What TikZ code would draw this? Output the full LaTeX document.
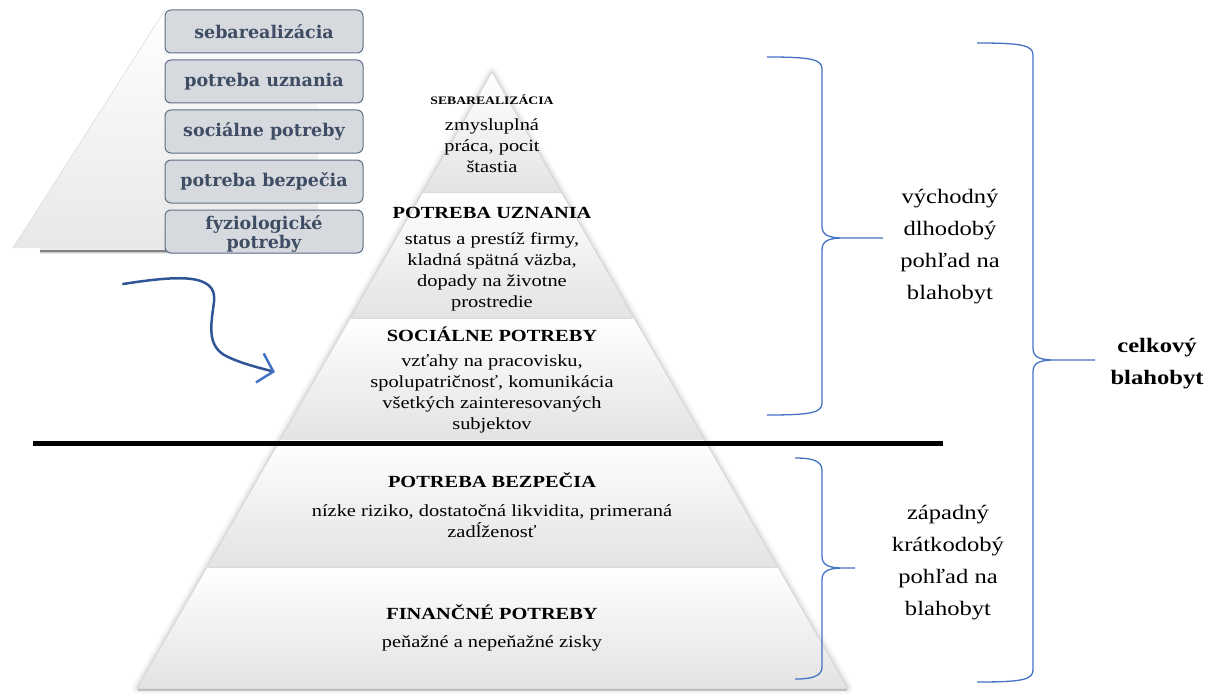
\documentclass[tikz,border=0pt]{standalone}
\usepackage{fontspec}
\setmainfont{Liberation Serif}[FakeStretch=1.2]
\newfontfamily\boxfont{DejaVu Serif}
\usetikzlibrary{calc, arrows.meta, positioning}

\definecolor{slatebox}{HTML}{D6D9DE}
\definecolor{slateline}{HTML}{5F6F86}
\definecolor{slatetext}{HTML}{3E4D63}
\definecolor{bracecol}{HTML}{4472C4}
\definecolor{arrowcol}{HTML}{2F5597}

\newcommand{\wbrace}[6]{%
  \draw[brace] (#1,#4) .. controls (#2-12,#4) and (#2,#4+2) .. (#2,#4+12)
    -- (#2,#5-12) .. controls (#2,#5-3) and (#2+6,#5) .. (#2+22,#5) -- (#3,#5)
    (#2+22,#5) .. controls (#2+6,#5) and (#2,#5+3) .. (#2,#5+12)
    -- (#2,#6-12) .. controls (#2,#6-2) and (#2-12,#6) .. (#1,#6);}

\begin{document}
\begin{tikzpicture}
[x=1pt, y=-1pt,
 layer/.style={top color=white, bottom color=gray!22},
 lbox/.style={draw=slateline, fill=slatebox, rounded corners=6pt, line width=1pt,
              minimum width=198pt, minimum height=43pt, inner sep=1pt, text=slatetext,
              font=\boxfont\bfseries\fontsize{17.5}{19}\selectfont, align=center},
 smallhead/.style={font=\bfseries\fontsize{11.4}{13}\selectfont},
 head/.style={font=\bfseries\fontsize{17}{20}\selectfont},
 body/.style={font=\fontsize{17}{21}\selectfont, align=center},
 side/.style={font=\fontsize{20.5}{32}\selectfont, align=center},
 brace/.style={draw=bracecol, line width=1.3pt}]

\useasboundingbox (0,0) rectangle (1214,698);

% small pyramid
\shade[top color=white, bottom color=gray!18] (165,10) -- (13,248) -- (318,248) -- (318,10) -- cycle;
\draw[gray!35] (165,10) -- (13,248);
\foreach \w/\o in {6/0.08, 3/0.15, 1.5/0.35}
  \draw[line width=\w pt, opacity=\o] (40,251) -- (316,251);

\node[lbox] (sa) at (264,31.5) {sebarealizácia};
\node[lbox, below=6pt of sa] (un) {potreba uznania};
\node[lbox, below=6pt of un] (so) {sociálne potreby};
\node[lbox, below=6pt of so] (bz) {potreba bezpečia};
\node[lbox, below=6pt of bz] (fz) {};
\node[lbox, draw=none, fill=none, yshift=-2pt] (fzt) at (fz) {fyziologické\\potreby};

% main pyramid
\coordinate (apex) at (492,73);
\coordinate (bl) at (138,688);
\coordinate (br) at (847,688);
\foreach \w/\o in {12/0.03, 7/0.05, 3/0.08}
  \draw[line width=\w pt, opacity=\o, line join=round] (apex) -- (bl) -- (br) -- cycle;
\foreach \a/\b in {0/0.1951, 0.1951/0.3984, 0.3984/0.5967, 0.5967/0.8033, 0.8033/1}
  \shade[layer] ($(apex)!\a!(bl)$) -- ($(apex)!\b!(bl)$) -- ($(apex)!\b!(br)$) -- ($(apex)!\a!(br)$) -- cycle;
\foreach \b in {0.1951, 0.3984, 0.8033}
  \draw[gray!30, line width=1pt] ($(apex)!\b!(bl)$) -- ($(apex)!\b!(br)$);
\draw[gray!70, line width=2pt, opacity=0.6] ([yshift=-2pt]bl) -- ([yshift=-2pt]br);

\coordinate (divl) at (33,443);
\coordinate (divr) at (943,443);
\draw[line width=5pt] (divl) -- (divr);

\node[smallhead] (h1) at (492,100) {SEBAREALIZÁCIA};
\node[body] (t1) at (492,146) {zmysluplná\\práca, pocit\\štastia};
\node[head] (h2) at (492,213) {POTREBA UZNANIA};
\node[body] (t2) at (492,271.5) {status a prestíž firmy,\\kladná spätná väzba,\\dopady na životne\\prostredie};
\node[head] (h3) at (492,334) {SOCIÁLNE POTREBY};
\node[body] (t3) at (492,393.5) {vzťahy na pracovisku,\\spolupatričnosť, komunikácia\\všetkých zainteresovaných\\subjektov};
\node[head] (h4) at (492,480) {POTREBA BEZPEČIA};
\node[body] (t4) at (492,521) {nízke riziko, dostatočná likvidita, primeraná\\zadĺženosť};
\node[head] (h5) at (492,612) {FINANČNÉ POTREBY};
\node[body] (t5) at (492,643) {peňažné a nepeňažné zisky};

% braces and labels
\wbrace{767}{822}{883}{57}{238}{415}
\wbrace{795}{822}{855}{458}{568}{679}
\wbrace{977}{1033}{1095}{43}{360}{682}
\node[side] (east) at (950,247) {východný\\dlhodobý\\pohľad na\\blahobyt};
\node[side] (west) at (948,563) {západný\\krátkodobý\\pohľad na\\blahobyt};
\node[side, font=\bfseries\fontsize{20.5}{32}\selectfont] (total) at (1157,364) {celkový\\blahobyt};

\coordinate (arrs) at (123,284);
\coordinate (arre) at (275,372);
\draw[arrowcol, line width=2.5pt, line cap=round,
      -{Straight Barb[length=14pt, width=30pt, color=bracecol]}]
  (arrs) .. controls (175,276) and (218,272) .. (214,302)
  .. controls (211,325) and (206,347) .. (228,357)
  .. controls (243,364) and (260,368) .. (arre);
\end{tikzpicture}
\end{document}
